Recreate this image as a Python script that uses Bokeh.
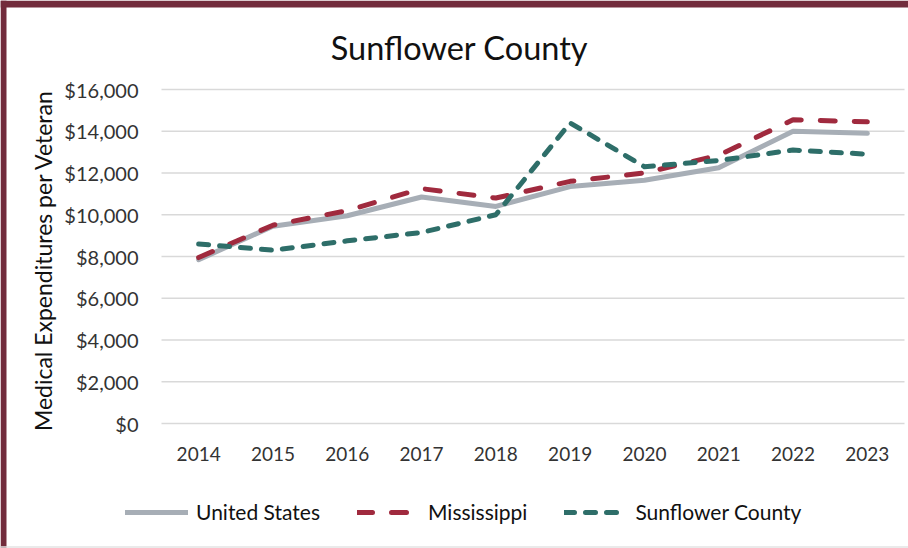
import math
from bokeh.plotting import figure
from bokeh.models import Range1d, Legend, LegendItem, Span, Grid
from bokeh.core.properties import value
from bokeh.embed import file_html
from bokeh.resources import INLINE

# ---- data ----
years = ["2014", "2015", "2016", "2017", "2018", "2019", "2020", "2021", "2022", "2023"]
united_states = [7850, 9450, 9950, 10850, 10400, 11350, 11650, 12250, 14000, 13900]
mississippi = [7950, 9500, 10200, 11250, 10800, 11600, 12000, 12850, 14550, 14450]
sunflower = [8600, 8300, 8750, 9150, 10000, 14400, 12300, 12600, 13100, 12900]
y_ticks = [0, 2000, 4000, 6000, 8000, 10000, 12000, 14000, 16000]
title_text = "Sunflower County"
y_title = "Medical Expenditures per Veteran"
series_names = ["United States", "Mississippi", "Sunflower County"]

# ---- layout (pixels) ----
W, H = 908, 548
PLOT_L, PLOT_R, PLOT_T, PLOT_B = 161, 904, 89, 423

FONT = "Lato"
TXT = "#333333"
GRAY = "#A7AEB6"
MAROON = "#A02A3E"
TEAL = "#2E6E69"
FRAME = "#722C3C"

year_nums = [int(y) for y in years]
x_first, x_last = year_nums[0] - 0.5, year_nums[-1] + 0.5
px_per_year = (PLOT_R - PLOT_L) / (x_last - x_first)
X_START = x_first - PLOT_L / px_per_year
X_END = X_START + W / px_per_year
unit_per_px = (y_ticks[-1] - y_ticks[0]) / (PLOT_B - PLOT_T)
Y_END = y_ticks[-1] + PLOT_T * unit_per_px
Y_START = Y_END - H * unit_per_px


def x_at(px):
    return X_START + px / px_per_year


def y_at(py):
    return Y_END - py * unit_per_px


p = figure(width=W, height=H, x_range=Range1d(X_START, X_END), y_range=Range1d(Y_START, Y_END),
           output_backend="svg", toolbar_location=None,
           x_axis_location=None, y_axis_location=None,
           min_border=0, min_border_left=0, min_border_right=0, min_border_top=0,
           min_border_bottom=0)
p.outline_line_color = None
p.background_fill_color = "white"
p.border_fill_color = "white"
for g in p.select(type=Grid):
    g.visible = False
    g.grid_line_color = None

# horizontal grid lines at the y ticks
p.segment(x0=[x_first] * len(y_ticks), x1=[x_last] * len(y_ticks), y0=y_ticks, y1=y_ticks,
          line_color="#D9D9D9", line_width=1.5)

# series
r_us = p.line(year_nums, united_states, line_color=GRAY, line_width=5, line_cap="round",
              line_join="round")
r_ms = p.line(year_nums, mississippi, line_color=MAROON, line_width=5, line_cap="round",
              line_dash="15 19", line_join="round")
r_sf = p.line(year_nums, sunflower, line_color=TEAL, line_width=5, line_cap="round",
              line_dash="10 11", line_join="round")

# y tick labels
p.text(x=[x_at(138)] * len(y_ticks), y=y_ticks, text=[f"${v:,}" for v in y_ticks],
       text_font=value(FONT), text_font_size="20px", text_color=TXT,
       text_align="right", text_baseline="middle")
# x tick labels
p.text(x=year_nums, y=[y_at(453)] * len(years), text=years,
       text_font=value(FONT), text_font_size="19px", text_color=TXT,
       text_align="center", text_baseline="middle")
# y axis title
p.text(x=[x_at(42)], y=[y_at(260)], text=[y_title], angle=math.pi / 2,
       text_font=value(FONT), text_font_size="23px", text_color="#111111",
       text_align="center", text_baseline="middle")
# chart title
p.text(x=[x_at(459)], y=[y_at(47)], text=[title_text],
       text_font=value(FONT), text_font_size="32.5px", text_color="#111111",
       text_align="center", text_baseline="middle")

# frame decorations (maroon border top/left, faint bottom rule)
p.add_layout(Span(location=y_at(3.5), dimension="width", line_color=FRAME, line_width=7))
p.add_layout(Span(location=x_at(3), dimension="height", line_color=FRAME, line_width=6))
p.add_layout(Span(location=y_at(546.5), dimension="width", line_color="#E3E3E3", line_width=1.5))

legend = Legend(items=[LegendItem(label=series_names[0], renderers=[r_us]),
                       LegendItem(label=series_names[1], renderers=[r_ms]),
                       LegendItem(label=series_names[2], renderers=[r_sf])],
                orientation="horizontal", location=(125, 24),
                glyph_width=63, glyph_height=20, label_standoff=8, spacing=37,
                padding=0, margin=0, border_line_color=None, background_fill_alpha=0,
                label_text_font=FONT, label_text_font_size="21px", label_text_color="#111111")
p.add_layout(legend, "center")

open("out.html", "w").write(file_html(p, INLINE))
